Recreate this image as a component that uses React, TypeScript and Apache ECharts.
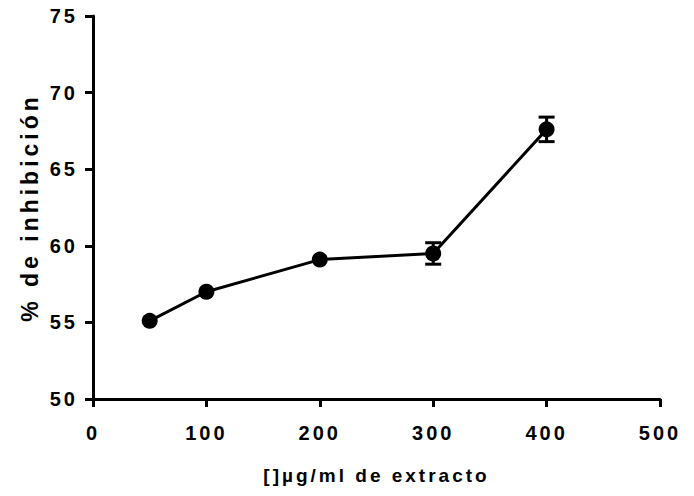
import React, { useEffect, useRef } from "react";
import * as echarts from "echarts";

const concentrations = [50, 100, 200, 300, 400];
const inhibition = [55.1, 57.0, 59.1, 59.5, 67.6];
const errors = [0, 0, 0, 0.7, 0.8];
const xTicks = [0, 100, 200, 300, 400, 500];
const yTicks = [50, 55, 60, 65, 70, 75];
const xTitle = "[]µg/ml de extracto";
const yTitle = "% de inhibición";

const css = `
#chart-box svg text[style*="20px"] { letter-spacing: 3px; }
#chart-box svg text[style*="19px"] { letter-spacing: 3px; }
#chart-box svg text[style*="23px"] { letter-spacing: 4px; }
`;

export default function App() {
  const ref = useRef<HTMLDivElement>(null);
  useEffect(() => {
    if (!ref.current) return;
    const chart = echarts.init(ref.current, null, { renderer: "svg" });
    const font = "'Liberation Sans', Arial, sans-serif";
    const errData = concentrations.map((c, i) => [c, inhibition[i] - errors[i], inhibition[i] + errors[i], errors[i]]);
    chart.setOption({
      animation: false,
      backgroundColor: "#ffffff",
      grid: { left: 93, right: 34, top: 16, bottom: 97, containLabel: false },
      xAxis: {
        type: "value",
        min: xTicks[0],
        max: xTicks[xTicks.length - 1],
        interval: 100,
        name: xTitle,
        nameLocation: "middle",
        nameGap: 67,
        nameTextStyle: { fontFamily: font, fontWeight: "bold", fontSize: 19, color: "#000" },
        axisLine: { show: true, lineStyle: { color: "#000", width: 3 } },
        axisTick: { show: true, length: 8, lineStyle: { color: "#000", width: 3 } },
        axisLabel: { fontFamily: font, fontWeight: "bold", fontSize: 20, color: "#000", margin: 24 },
        splitLine: { show: false },
      },
      yAxis: {
        type: "value",
        min: yTicks[0],
        max: yTicks[yTicks.length - 1],
        interval: 5,
        name: yTitle,
        nameLocation: "middle",
        nameGap: 52,
        nameTextStyle: { fontFamily: font, fontWeight: "bold", fontSize: 23, color: "#000" },
        axisLine: { show: true, lineStyle: { color: "#000", width: 3 } },
        axisTick: { show: true, length: 8, lineStyle: { color: "#000", width: 3 } },
        axisLabel: { fontFamily: font, fontWeight: "bold", fontSize: 20, color: "#000", margin: 15 },
        splitLine: { show: false },
      },
      series: [
        {
          type: "line",
          data: concentrations.map((c, i) => [c, inhibition[i]]),
          symbol: "circle",
          symbolSize: 16,
          itemStyle: { color: "#000" },
          lineStyle: { color: "#000", width: 3 },
          z: 3,
        },
        {
          type: "custom",
          data: errData,
          z: 4,
          renderItem: (params: any, api: any) => {
            if (!api.value(3)) return null;
            const x = api.value(0);
            const lo = api.coord([x, api.value(1)]);
            const hi = api.coord([x, api.value(2)]);
            const hw = 8;
            const style = { stroke: "#000", lineWidth: 3 };
            return {
              type: "group",
              children: [
                { type: "line", shape: { x1: lo[0], y1: lo[1], x2: hi[0], y2: hi[1] }, style },
                { type: "line", shape: { x1: lo[0] - hw, y1: lo[1], x2: lo[0] + hw, y2: lo[1] }, style },
                { type: "line", shape: { x1: hi[0] - hw, y1: hi[1], x2: hi[0] + hw, y2: hi[1] }, style },
              ],
            };
          },
        },
      ],
    });
    return () => chart.dispose();
  }, []);
  return (
    <>
      <style>{css}</style>
      <div id="chart-box" ref={ref} style={{ width: 694, height: 496, position: "fixed", left: 0, top: 0 }} />
    </>
  );
}
